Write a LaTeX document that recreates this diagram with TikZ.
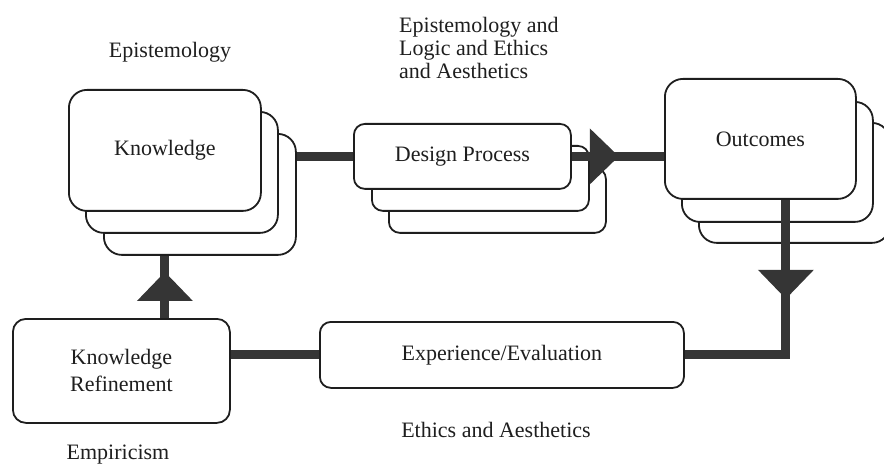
\documentclass[tikz,border=0pt]{standalone}
\usepackage{fontspec}
\setmainfont{Liberation Serif}
\usetikzlibrary{arrows.meta,decorations.markings,calc}

\definecolor{ink}{HTML}{1E1E1E}
\definecolor{linkgray}{HTML}{353535}

\begin{document}
\begin{tikzpicture}[x=1pt,y=-1pt,
  font=\fontsize{22}{23}\selectfont,
  card/.style={draw=ink, line width=1.8pt, fill=white, inner sep=0pt,
    anchor=north west, align=center, text=ink},
  bigcard/.style={card, rounded corners=18pt, minimum width=192pt, minimum height=121pt},
  midcard/.style={card, rounded corners=11pt, minimum width=217pt, minimum height=65pt},
  label/.style={inner sep=0pt, text=ink},
  link/.style={draw=linkgray, line width=9pt},
  head/.style={postaction={decorate}, decoration={markings,
    mark=at position #1 with {\arrow[linkgray]{Triangle[length=29pt,width=56pt,line width=0pt]}}}}
]
\useasboundingbox (0,0) rectangle (884,465);

% Knowledge stack
\node[bigcard] (k3) at (103,133) {};
\node[bigcard] (k2) at (85,111) {};
\node[bigcard] (k1) at (68,89) {Knowledge};

% Design process stack
\node[midcard] (d3) at (388,167) {};
\node[midcard] (d2) at (371,145) {};
\node[midcard] (d1) at (353,123) {Design Process};

% Outcomes stack
\node[bigcard, minimum width=191pt, minimum height=120pt] (o3) at (698,122) {};
\node[bigcard, minimum width=191pt, minimum height=120pt] (o2) at (681,101) {};
\node[bigcard, minimum width=191pt, minimum height=120pt] (o1) at (664,78) {Outcomes};

% Feedback boxes
\node[card, rounded corners=13pt, minimum width=217pt, minimum height=104pt,
  font=\fontsize{22}{27}\selectfont] (kr) at (12,318) {Knowledge\\Refinement};
\node[card, rounded corners=11pt, minimum width=364pt, minimum height=66pt] (ev) at (319,321) {Experience/Evaluation};

% Labels
\node[label, anchor=base] (lepi) at (170,58) {Epistemology};
\node[label, anchor=north west, align=left] (ldes) at (399,17) {Epistemology and\\Logic and Ethics\\and Aesthetics};
\node[label, anchor=base] (lemp) at (118,459) {Empiricism};
\node[label, anchor=base] (leth) at (496,437) {Ethics and Aesthetics};

% Connectors
\coordinate (odrop) at ($(o1.south)+(25.5,0)$);
\draw[link] (k3.east |- d1.west) -- (d1.west);
\draw[link, head=47pt] (d1.east) -- (d1.east -| o1.west);
\draw[link, head=99pt, line join=miter] (odrop) -- (odrop |- ev.east) -- (ev.east);
\draw[link] (ev.west) -- (ev.west -| kr.east);
\draw[link, head=46pt] (kr.north -| k1.south) -- (k3.south -| k1.south);
\end{tikzpicture}
\end{document}
